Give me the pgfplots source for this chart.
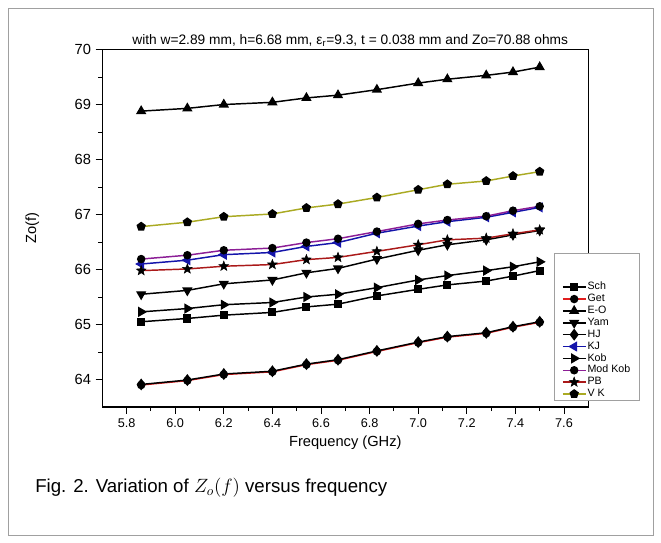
\documentclass[border=0pt]{standalone}
\usepackage{fontspec}
\setmainfont{Liberation Sans}
\usepackage{pgfplots}
\usepackage{pgfplotstable}
\pgfplotsset{compat=1.18}

\definecolor{getred}{RGB}{225,30,30}
\definecolor{kjblue}{RGB}{20,20,170}
\definecolor{modkob}{RGB}{140,30,150}
\definecolor{pbred}{RGB}{170,25,25}
\definecolor{vkolive}{RGB}{170,170,35}
\definecolor{framegray}{RGB}{160,160,160}

% filled five-point star for the PB series
\pgfdeclareplotmark{fstar}{%
  \pgfpathmoveto{\pgfpointpolar{90}{\pgfplotmarksize}}%
  \pgfpathlineto{\pgfpointpolar{126}{0.42\pgfplotmarksize}}%
  \pgfpathlineto{\pgfpointpolar{162}{\pgfplotmarksize}}%
  \pgfpathlineto{\pgfpointpolar{198}{0.42\pgfplotmarksize}}%
  \pgfpathlineto{\pgfpointpolar{234}{\pgfplotmarksize}}%
  \pgfpathlineto{\pgfpointpolar{270}{0.42\pgfplotmarksize}}%
  \pgfpathlineto{\pgfpointpolar{306}{\pgfplotmarksize}}%
  \pgfpathlineto{\pgfpointpolar{342}{0.42\pgfplotmarksize}}%
  \pgfpathlineto{\pgfpointpolar{18}{\pgfplotmarksize}}%
  \pgfpathlineto{\pgfpointpolar{54}{0.42\pgfplotmarksize}}%
  \pgfpathclose\pgfusepathqfillstroke}

\pgfplotstableread{
f    sch   get   eo    yam   hj    kj    kob   modkob pb    vk
5.86 65.05 63.90 68.88 65.55 63.91 66.10 65.23 66.19  65.98 66.78
6.05 65.11 63.98 68.93 65.62 63.99 66.17 65.29 66.26  66.01 66.86
6.20 65.17 64.09 69.00 65.74 64.10 66.27 65.36 66.35  66.06 66.96
6.40 65.22 64.14 69.04 65.81 64.15 66.31 65.40 66.39  66.09 67.01
6.54 65.32 64.27 69.12 65.94 64.28 66.42 65.50 66.49  66.18 67.12
6.67 65.37 64.35 69.17 66.02 64.36 66.49 65.55 66.56  66.22 67.19
6.83 65.52 64.51 69.27 66.19 64.52 66.66 65.67 66.69  66.33 67.31
7.00 65.64 64.67 69.39 66.35 64.68 66.79 65.81 66.83  66.45 67.45
7.12 65.72 64.77 69.46 66.45 64.78 66.87 65.89 66.90  66.54 67.55
7.28 65.79 64.84 69.53 66.54 64.85 66.95 65.98 66.97  66.57 67.61
7.39 65.88 64.95 69.59 66.63 64.96 67.04 66.05 67.07  66.65 67.70
7.50 65.98 65.04 69.68 66.71 65.05 67.13 66.14 67.15  66.72 67.78
}\zodata

\begin{document}
\begin{tikzpicture}
% picture frame in reference pixel units (axis corner at pixel 102.3,407)
\begin{scope}[x=0.75pt, y=-0.75pt, shift={(-76.725pt,305.25pt)}]
  \useasboundingbox (0,0) rectangle (661,543);
  \draw[framegray, line width=0.5pt] (8,8) rectangle (653,535);
  \node[anchor=west, font=\fontsize{14}{16}\selectfont, inner sep=0pt]
    at (35,488) {Fig. 2. Variation of $Z_o(f)$ versus frequency};
\end{scope}

\begin{axis}[
    at={(0,0)}, anchor=south west,
    scale only axis,
    width=364.5pt, height=268.1pt,
    xmin=5.7, xmax=7.7,
    ymin=63.5, ymax=70,
    xtick={5.8,6.0,6.2,6.4,6.6,6.8,7.0,7.2,7.4,7.6},
    ytick={64,65,66,67,68,69,70},
    minor x tick num=1,
    minor y tick num=1,
    tick align=outside,
    xtick pos=bottom, ytick pos=left,
    major tick length=5pt, minor tick length=3pt,
    every tick/.style={black, line width=0.6pt},
    axis line style={line width=0.8pt},
    /pgf/number format/assume math mode=true,
    x tick label style={font=\fontsize{9.5}{11}\selectfont,
        /pgf/number format/.cd, fixed, fixed zerofill, precision=1},
    y tick label style={font=\fontsize{11}{13}\selectfont},
    title={with w=2.89 mm, h=6.68 mm, ε\textsubscript{r}=9.3, t = 0.038 mm and Zo=70.88 ohms},
    title style={font=\fontsize{10.3}{12}\selectfont, at={(axis description cs:0.5,1)},
        anchor=south, xshift=3.7pt, yshift=-5pt, inner sep=1pt},
    xlabel={Frequency (GHz)},
    xlabel style={font=\fontsize{11}{13}\selectfont, at={(axis description cs:0.5,0)},
        anchor=center, yshift=-27pt},
    ylabel={Zo(f)},
    ylabel style={font=\fontsize{11}{13}\selectfont, at={(axis description cs:-0.144,0.5)},
        anchor=center},
    legend style={at={(axis description cs:0.929,0.431)}, anchor=north west,
        draw=framegray, fill=white, font=\fontsize{8}{9}\selectfont,
        inner xsep=6pt, inner ysep=0pt, row sep=0pt,
        nodes={inner sep=0.95pt, text height=5.5pt, text depth=1.5pt}},
    legend cell align=left,
    every axis plot/.append style={line width=1.1pt},
    mark size=2.6pt,
]

\addlegendimage{empty legend}\addlegendentry{\mbox{}}
\addlegendimage{empty legend}\addlegendentry[text height=8.75pt]{\mbox{}}

\addplot[black, mark=square*, mark size=2.5pt, mark options={solid, fill=black}]
    table[x=f, y=sch] {\zodata};
\addlegendentry{Sch}
\addplot[getred, mark=*, mark options={solid, draw=black, fill=black}]
    table[x=f, y=get] {\zodata};
\addlegendentry{Get}
\addplot[black, mark=triangle*, mark size=3.4pt, mark options={solid, fill=black}]
    table[x=f, y=eo] {\zodata};
\addlegendentry{E-O}
\addplot[black, mark=triangle*, mark size=3.4pt, mark options={solid, fill=black, rotate=180}]
    table[x=f, y=yam] {\zodata};
\addlegendentry{Yam}
\addplot[black, mark=diamond*, mark size=3.6pt, mark options={solid, fill=black}]
    table[x=f, y=hj] {\zodata};
\addlegendentry{HJ}
\addplot[kjblue, mark=triangle*, mark size=3.4pt, mark options={solid, draw=kjblue, fill=kjblue, rotate=90}]
    table[x=f, y=kj] {\zodata};
\addlegendentry{KJ}
\addplot[black, mark=triangle*, mark size=3.4pt, mark options={solid, fill=black, rotate=-90}]
    table[x=f, y=kob] {\zodata};
\addlegendentry{Kob}
\addplot[modkob, mark=*, mark options={solid, draw=black, fill=black}]
    table[x=f, y=modkob] {\zodata};
\addlegendentry{Mod Kob}
\addplot[pbred, mark=fstar, mark size=3.8pt, mark options={solid, draw=black, fill=black, line width=0.4pt}]
    table[x=f, y=pb] {\zodata};
\addlegendentry{PB}
\addplot[vkolive, mark=pentagon*, mark size=3pt, mark options={solid, draw=black, fill=black}]
    table[x=f, y=vk] {\zodata};
\addlegendentry{V K}

\end{axis}
\end{tikzpicture}
\end{document}
